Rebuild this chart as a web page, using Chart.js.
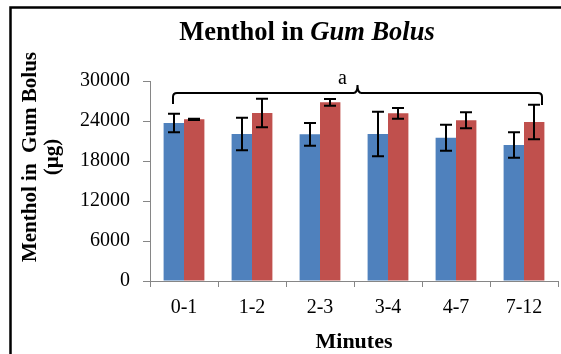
<!DOCTYPE html>
<html>
<head>
<meta charset="utf-8">
<script src="https://cdn.jsdelivr.net/npm/chart.js@4"></script>
<style>
    html, body { margin: 0; padding: 0; background: #fff; overflow: hidden; }
    canvas { display: block; }
</style>
</head>
<body>
<canvas id="gum-chart" width="561" height="354"></canvas>
<script>
const minutes = ['0-1', '1-2', '2-3', '3-4', '4-7', '7-12'];
const blueValues = [23700, 22050, 22000, 22050, 21500, 20400];
const blueErrors = [1400, 2450, 1700, 3350, 1950, 1900];
const redValues = [24250, 25200, 26800, 25150, 24100, 23850];
const redErrors = [100, 2150, 500, 800, 1200, 2600];
const yTicks = [0, 6000, 12000, 18000, 24000, 30000];

const serif = '"Times New Roman", "Liberation Serif", serif';
const axisGray = '#868686';

// border, titles, error bars and the "a" brace
const extrasPlugin = {
    id: 'extras',
    afterDatasetsDraw(chart) {
        const ctx = chart.ctx;
        const yScale = chart.scales.y;
        const xScale = chart.scales.x;
        const errors = [blueErrors, redErrors];
        const values = [blueValues, redValues];

        ctx.save();
        ctx.strokeStyle = '#000';
        ctx.lineWidth = 2;
        [0, 1].forEach(d => {
            chart.getDatasetMeta(d).data.forEach((bar, i) => {
                const top = yScale.getPixelForValue(values[d][i] + errors[d][i]);
                const bottom = yScale.getPixelForValue(values[d][i] - errors[d][i]);
                const x = Math.round(bar.x);
                ctx.beginPath();
                ctx.moveTo(x, top);
                ctx.lineTo(x, bottom);
                ctx.moveTo(x - 6, top);
                ctx.lineTo(x + 6, top);
                ctx.moveTo(x - 6, bottom);
                ctx.lineTo(x + 6, bottom);
                ctx.stroke();
            });
        });

        // brace over all groups
        const left = xScale.getPixelForValue(0) - 11;
        const right = xScale.getPixelForValue(minutes.length - 1) + 18;
        const mid = (left + right) / 2;
        const by = 93;
        ctx.beginPath();
        ctx.moveTo(left, 104);
        ctx.lineTo(left, by + 4);
        ctx.quadraticCurveTo(left, by, left + 4, by);
        ctx.lineTo(mid - 4, by);
        ctx.quadraticCurveTo(mid, by, mid, by - 8);
        ctx.quadraticCurveTo(mid, by, mid + 4, by);
        ctx.lineTo(right - 4, by);
        ctx.quadraticCurveTo(right, by, right, by + 4);
        ctx.lineTo(right, 105);
        ctx.stroke();

        ctx.fillStyle = '#000';
        ctx.font = '20px ' + serif;
        ctx.textAlign = 'center';
        ctx.textBaseline = 'alphabetic';
        ctx.fillText('a', mid - 15, 84);
        ctx.restore();
    },
    afterDraw(chart) {
        const ctx = chart.ctx;
        ctx.save();

        // keep the right margin clean above the plot
        ctx.fillStyle = '#fff';
        ctx.fillRect(546, 10, 15, 70);

        // outer frame (only top and left visible)
        ctx.strokeStyle = '#000';
        ctx.lineWidth = 2.5;
        ctx.beginPath();
        ctx.moveTo(10.5, 360);
        ctx.lineTo(10.5, 7.5);
        ctx.lineTo(570, 7.5);
        ctx.stroke();

        // main title, part italic
        ctx.fillStyle = '#000';
        ctx.textBaseline = 'alphabetic';
        ctx.textAlign = 'left';
        const plainFont = 'bold 26.5px ' + serif;
        const italicFont = 'italic bold 26.5px ' + serif;
        ctx.font = plainFont;
        const w1 = ctx.measureText('Menthol in ').width;
        ctx.font = italicFont;
        const w2 = ctx.measureText('Gum Bolus').width;
        const startX = 307 - (w1 + w2) / 2;
        ctx.font = plainFont;
        ctx.fillText('Menthol in ', startX, 40);
        ctx.font = italicFont;
        ctx.fillText('Gum Bolus', startX + w1, 40);

        // y axis title, two lines
        ctx.font = 'bold 21px ' + serif;
        ctx.textAlign = 'center';
        ctx.textBaseline = 'middle';
        ctx.translate(31, 157);
        ctx.rotate(-Math.PI / 2);
        ctx.fillText('Menthol in  Gum Bolus', 0, 0);
        ctx.fillText('(µg)', 0, 22);
        ctx.restore();
    }
};

const ctx = document.getElementById('gum-chart').getContext('2d');

new Chart(ctx, {
    type: 'bar',
    data: {
        labels: minutes,
        datasets: [{
            label: 'Series 1',
            data: blueValues,
            backgroundColor: '#4F81BD',
            borderWidth: 0
        }, {
            label: 'Series 2',
            data: redValues,
            backgroundColor: '#C0504D',
            borderWidth: 0
        }]
    },
    options: {
        responsive: false,
        animation: false,
        events: [],
        layout: {
            padding: { left: 0, top: 81, right: 3, bottom: 0 }
        },
        datasets: {
            bar: {
                categoryPercentage: 0.6,
                barPercentage: 1.0
            }
        },
        plugins: {
            legend: { display: false },
            tooltip: { enabled: false }
        },
        scales: {
            x: {
                grid: {
                    offset: true,
                    drawOnChartArea: false,
                    color: axisGray,
                    tickLength: 6
                },
                border: { color: axisGray, width: 1 },
                ticks: {
                    color: '#000',
                    padding: 9,
                    font: { family: serif, size: 20 }
                },
                title: {
                    display: true,
                    text: 'Minutes',
                    color: '#000',
                    padding: { top: 0, bottom: -2 },
                    font: { family: serif, size: 22, weight: 'bold' }
                },
                afterFit: scale => { scale.height = 73; }
            },
            y: {
                min: 0,
                max: 30000,
                afterBuildTicks: scale => {
                    scale.ticks = yTicks.map(v => ({ value: v }));
                },
                grid: {
                    drawOnChartArea: false,
                    color: axisGray,
                    tickLength: 7
                },
                border: { color: axisGray, width: 1 },
                ticks: {
                    color: '#000',
                    padding: 13,
                    font: { family: serif, size: 20 },
                    callback: v => String(v)
                },
                afterFit: scale => { scale.width = 150; }
            }
        }
    },
    plugins: [extrasPlugin]
});
</script>
</body>
</html>
